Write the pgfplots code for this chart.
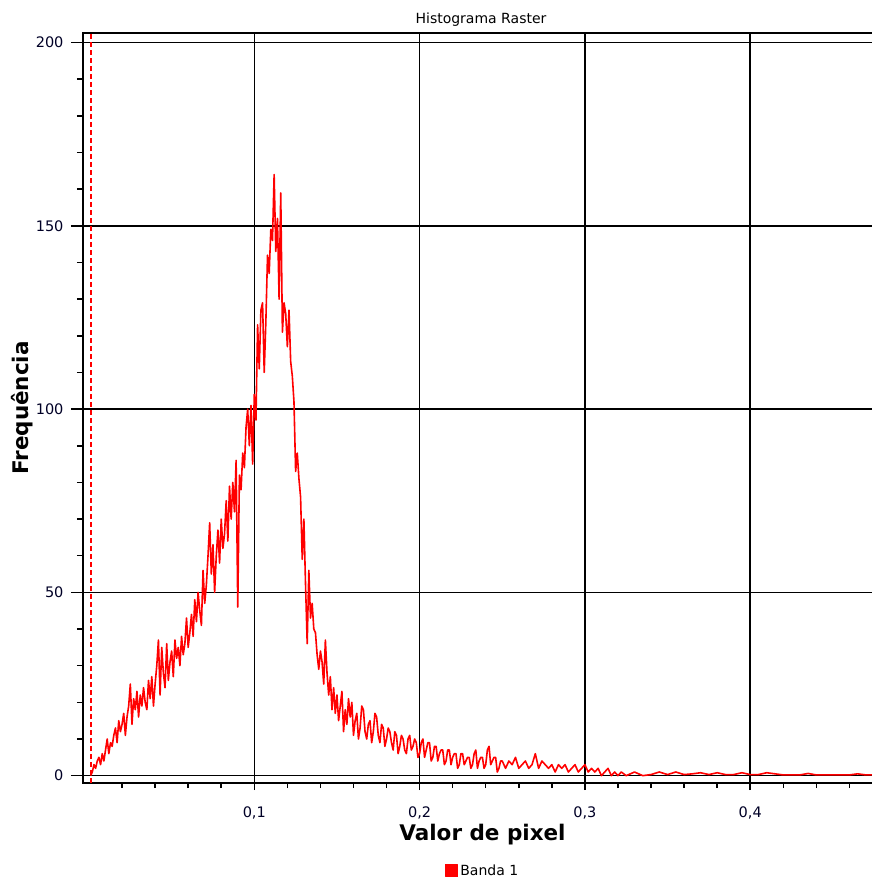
\documentclass[border=0pt]{standalone}
\usepackage{fontspec}
\setmainfont{DejaVu Sans}
\usepackage{pgfplots}
\pgfplotsset{compat=1.18}
\begin{document}
\begin{tikzpicture}
\useasboundingbox (0,0) rectangle (872pt,879pt);
\begin{axis}[
  at={(83pt,96pt)}, anchor=south west,
  scale only axis, width=792pt, height=750pt,
  xmin=-0.00363, xmax=0.4755, ymin=-2.0, ymax=202.6,
  xtick={0.1,0.2,0.3,0.4}, xticklabels={{0,1},{0,2},{0,3},{0,4}},
  minor xtick={0.02,0.04,0.06,0.08,0.12,0.14,0.16,0.18,0.22,0.24,0.26,0.28,0.32,0.34,0.36,0.38,0.42,0.44,0.46},
  ytick={0,50,100,150,200}, yticklabels={0,50,100,150,200},
  minor ytick={10,20,30,40,60,70,80,90,110,120,130,140,160,170,180,190},
  tick align=outside, xtick pos=bottom, ytick pos=left,
  major tick length=12pt, minor tick length=6pt,
  grid=major, major grid style={black, line width=1.5pt},
  axis line style={black, line width=1.5pt},
  tick style={black, line width=1.5pt},
  x tick style={/pgfplots/major tick length=7pt, /pgfplots/minor tick length=5pt},
  ticklabel style={font=\fontsize{14.5}{16}\selectfont, text=black!85!blue},
  yticklabel style={xshift=-4pt},
  xticklabel style={yshift=-8pt},
  /pgf/number format/assume math mode=true,
  title={Histograma Raster},
  title style={at={(0.5025,1.0045)}, anchor=base, font=\fontsize{14}{16}\selectfont},
  xlabel={Valor de pixel},
  xlabel style={at={(axis description cs:0.5044,-0.0773)}, anchor=base, font=\bfseries\fontsize{21.5}{24}\selectfont},
  ylabel={Frequência},
  ylabel style={at={(axis description cs:-0.0773,0.5)}, anchor=center, font=\bfseries\fontsize{21.5}{24}\selectfont},
  legend style={at={(0.5044,-0.1167)}, anchor=center, draw=none, fill=none, font=\fontsize{14}{16}\selectfont},
  legend image code/.code={\fill[red] (0pt,-6pt) rectangle (12pt,6pt);},
]
\addplot[red, line width=1.4pt, dash pattern=on 5pt off 3pt, forget plot] coordinates {(0.0012,-2) (0.0012,202.6)};
\addplot[red, line width=1.6pt, mark=none, line join=round] table {
x y
0.001 0
0.002 1
0.003 3
0.004 2
0.005 4
0.006 5
0.007 3
0.008 6
0.009 4
0.010 7
0.011 10
0.012 6
0.013 9
0.014 8
0.015 11
0.016 13
0.017 9
0.018 15
0.019 12
0.020 14
0.021 17
0.022 11
0.023 16
0.024 19
0.025 25
0.026 14
0.027 21
0.028 18
0.029 23
0.030 16
0.031 22
0.032 19
0.033 24
0.034 20
0.035 18
0.036 26
0.037 21
0.038 27
0.039 19
0.040 25
0.041 30
0.042 37
0.043 22
0.044 35
0.045 28
0.046 24
0.047 36
0.048 26
0.049 31
0.050 34
0.051 27
0.052 37
0.053 32
0.054 35
0.055 30
0.056 38
0.057 33
0.058 36
0.059 43
0.060 35
0.061 39
0.062 44
0.063 38
0.064 48
0.065 42
0.066 50
0.067 45
0.068 41
0.069 56
0.070 47
0.071 52
0.072 60
0.073 69
0.074 55
0.075 63
0.076 50
0.077 60
0.078 67
0.079 58
0.080 70
0.081 62
0.082 66
0.083 75
0.084 64
0.085 79
0.086 70
0.087 80
0.088 72
0.089 86
0.090 46
0.091 82
0.092 78
0.093 88
0.094 84
0.095 95
0.096 100
0.097 90
0.098 101
0.099 85
0.100 104
0.101 97
0.102 123
0.103 111
0.104 127
0.105 129
0.106 110
0.107 124
0.108 142
0.109 137
0.110 149
0.111 146
0.112 164
0.113 143
0.114 152
0.115 130
0.116 159
0.117 121
0.118 129
0.119 126
0.120 117
0.121 127
0.122 113
0.123 109
0.124 102
0.125 83
0.126 88
0.127 81
0.128 76
0.129 59
0.130 70
0.131 52
0.132 36
0.133 56
0.134 43
0.135 47
0.136 40
0.137 39
0.138 33
0.139 29
0.140 34
0.141 31
0.142 25
0.143 37
0.144 28
0.145 22
0.146 27
0.147 18
0.148 24
0.149 17
0.150 22
0.151 15
0.152 19
0.153 23
0.154 12
0.155 18
0.156 14
0.157 21
0.158 16
0.159 20
0.160 11
0.161 15
0.162 17
0.163 10
0.164 13
0.165 19
0.166 18
0.167 12
0.168 10
0.169 14
0.170 15
0.171 9
0.172 12
0.173 17
0.174 16
0.175 11
0.176 9
0.177 14
0.178 13
0.179 8
0.180 10
0.181 13
0.182 12
0.183 9
0.184 7
0.185 12
0.186 11
0.187 6
0.188 8
0.189 11
0.190 10
0.191 7
0.192 6
0.193 10
0.194 11
0.195 7
0.196 8
0.197 10
0.198 9
0.199 5
0.200 6
0.201 9
0.202 10
0.203 5
0.204 7
0.205 9
0.206 9
0.207 4
0.208 5
0.209 8
0.210 8
0.211 4
0.212 6
0.213 7
0.214 7
0.215 3
0.216 4
0.217 7
0.218 7
0.219 3
0.220 5
0.221 6
0.222 6
0.223 2
0.224 3
0.225 6
0.226 6
0.227 3
0.228 4
0.229 5
0.230 5
0.231 2
0.232 3
0.233 6
0.234 7
0.235 2
0.236 4
0.237 5
0.238 5
0.239 2
0.240 3
0.241 7
0.242 8
0.243 3
0.244 4
0.245 5
0.246 5
0.247 1
0.248 2
0.249 4
0.250 4
0.252 2
0.254 4
0.256 3
0.258 5
0.260 2
0.262 3
0.264 4
0.266 2
0.268 3
0.270 6
0.272 2
0.274 4
0.276 3
0.278 2
0.280 3
0.282 1
0.284 3
0.286 2
0.288 3
0.290 1
0.292 2
0.294 3
0.296 1
0.298 2
0.300 3
0.302 1
0.304 2
0.306 1
0.308 2
0.310 0
0.312 1
0.314 2
0.316 0
0.318 1
0.320 0
0.322 1
0.325 0
0.330 1
0.335 0
0.340 0.3
0.345 1
0.350 0.3
0.355 1
0.360 0.3
0.365 0.5
0.370 0.8
0.375 0.3
0.380 0.8
0.385 0.3
0.390 0.3
0.395 0.8
0.400 0.3
0.405 0.3
0.410 0.8
0.420 0.2
0.430 0.2
0.435 0.6
0.440 0.2
0.450 0.2
0.460 0.2
0.465 0.5
0.470 0.2
0.475 0.2
};
\addlegendentry{Banda 1}
\end{axis}
\end{tikzpicture}
\end{document}
